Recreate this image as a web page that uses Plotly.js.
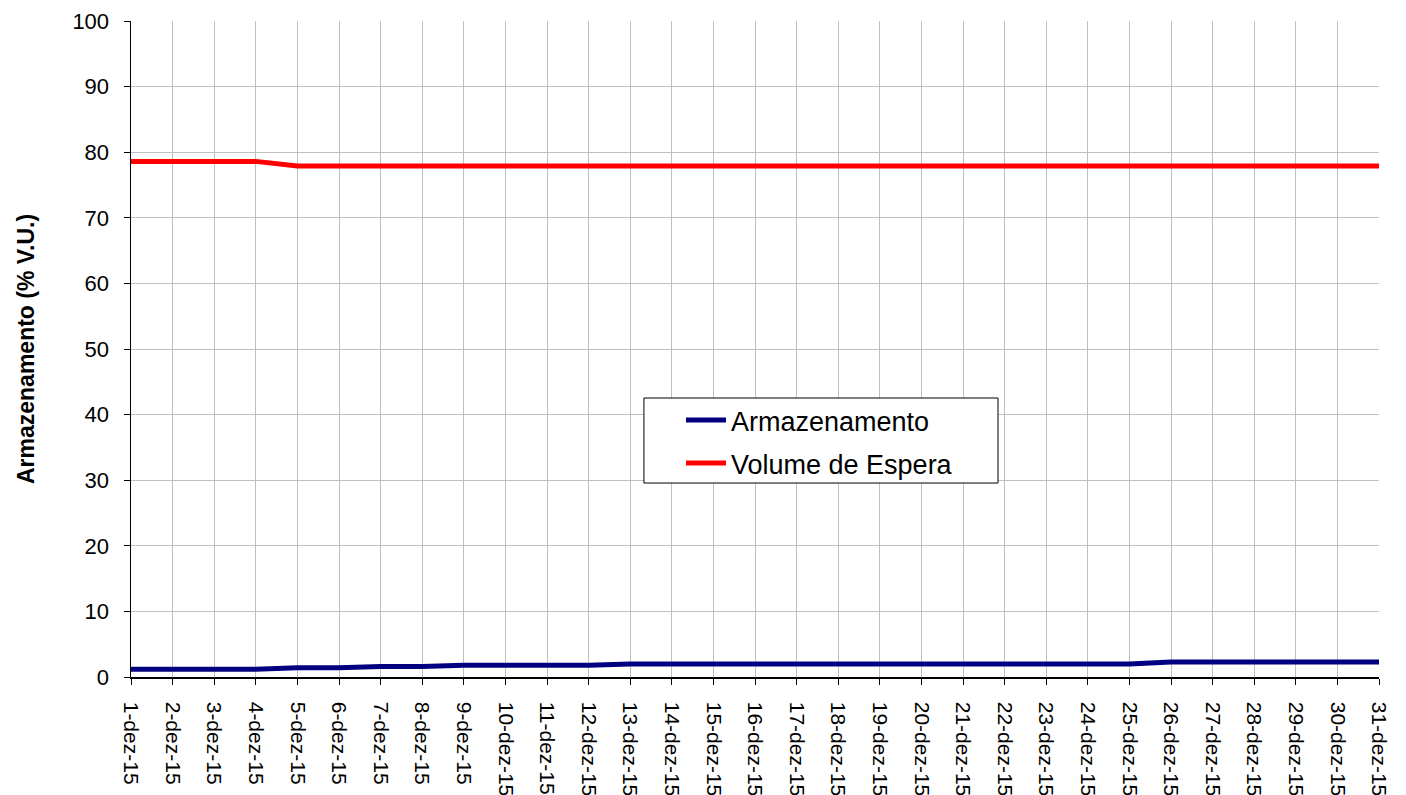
<!DOCTYPE html>
<html>
<head>
<meta charset="utf-8">
<script src="https://cdn.plot.ly/plotly-3.0.1.min.js"></script>
<style>html,body{margin:0;padding:0;background:#fff;}#chart{width:1406px;height:795px;}</style>
</head>
<body>
<div id="chart"></div>
<script>
const days = ["1-dez-15","2-dez-15","3-dez-15","4-dez-15","5-dez-15","6-dez-15","7-dez-15","8-dez-15","9-dez-15","10-dez-15",
"11-dez-15","12-dez-15","13-dez-15","14-dez-15","15-dez-15","16-dez-15","17-dez-15","18-dez-15","19-dez-15","20-dez-15",
"21-dez-15","22-dez-15","23-dez-15","24-dez-15","25-dez-15","26-dez-15","27-dez-15","28-dez-15","29-dez-15","30-dez-15","31-dez-15"];
const armazenamento = [1.2,1.2,1.2,1.2,1.4,1.4,1.6,1.6,1.8,1.8,1.8,1.8,2.0,2.0,2.0,2.0,2.0,2.0,2.0,2.0,2.0,2.0,2.0,2.0,2.0,2.3,2.3,2.3,2.3,2.3,2.3];
const volumeEspera = [78.6,78.6,78.6,78.6,77.9,77.9,77.9,77.9,77.9,77.9,77.9,77.9,77.9,77.9,77.9,77.9,77.9,77.9,77.9,77.9,77.9,77.9,77.9,77.9,77.9,77.9,77.9,77.9,77.9,77.9,77.9];
const yTicks = [0,10,20,30,40,50,60,70,80,90,100];

const traces = [
  {x: days, y: armazenamento, type: 'scatter', mode: 'lines', name: 'Armazenamento',
   legendgroup: 'a', line: {color: '#000080', width: 5}},
  {x: days, y: volumeEspera, type: 'scatter', mode: 'lines', name: 'Volume de Espera',
   legendgroup: 'b', line: {color: '#ff0000', width: 5}}
];
const layout = {
  width: 1406, height: 795,
  margin: {l: 131, r: 27, t: 21, b: 118},
  paper_bgcolor: '#fff', plot_bgcolor: '#fff',
  font: {family: 'Arial, "Liberation Sans", sans-serif', size: 22, color: '#000'},
  showlegend: true,
  legend: {x: 0.4407, y: 0.4284, xanchor: 'left', yanchor: 'top',
    borderwidth: 0, bgcolor: 'rgba(0,0,0,0)',
    font: {size: 27}, tracegroupgap: 5, itemwidth: 40},
  shapes: [{type: 'rect', xref: 'paper', yref: 'paper', layer: 'above',
    x0: 0.411, x1: 0.6947, y0: 0.2957, y1: 0.4253,
    fillcolor: '#fff', line: {color: '#000', width: 1}}],
  xaxis: {type: 'category', range: [0, 30], tickangle: 90,
    tickvals: days, ticktext: days,
    showgrid: true, gridcolor: '#c0c0c0', gridwidth: 1,
    showline: true, linecolor: '#000', linewidth: 1.5,
    ticks: 'outside', ticklen: 6, tickcolor: '#000',
    tickfont: {size: 21}, ticklabelstandoff: 13, zeroline: false},
  yaxis: {range: [0, 100], tickvals: yTicks,
    showgrid: true, gridcolor: '#c0c0c0', gridwidth: 1,
    showline: true, linecolor: '#000', linewidth: 1.5,
    ticks: 'outside', ticklen: 6, tickcolor: '#000',
    tickfont: {size: 22}, ticklabelstandoff: 10, zeroline: false,
    title: {text: '<b>Armazenamento (% V.U.)</b>', font: {size: 23}, standoff: 31}}
};
Plotly.newPlot('chart', traces, layout, {displayModeBar: false, staticPlot: true});
</script>
</body>
</html>
